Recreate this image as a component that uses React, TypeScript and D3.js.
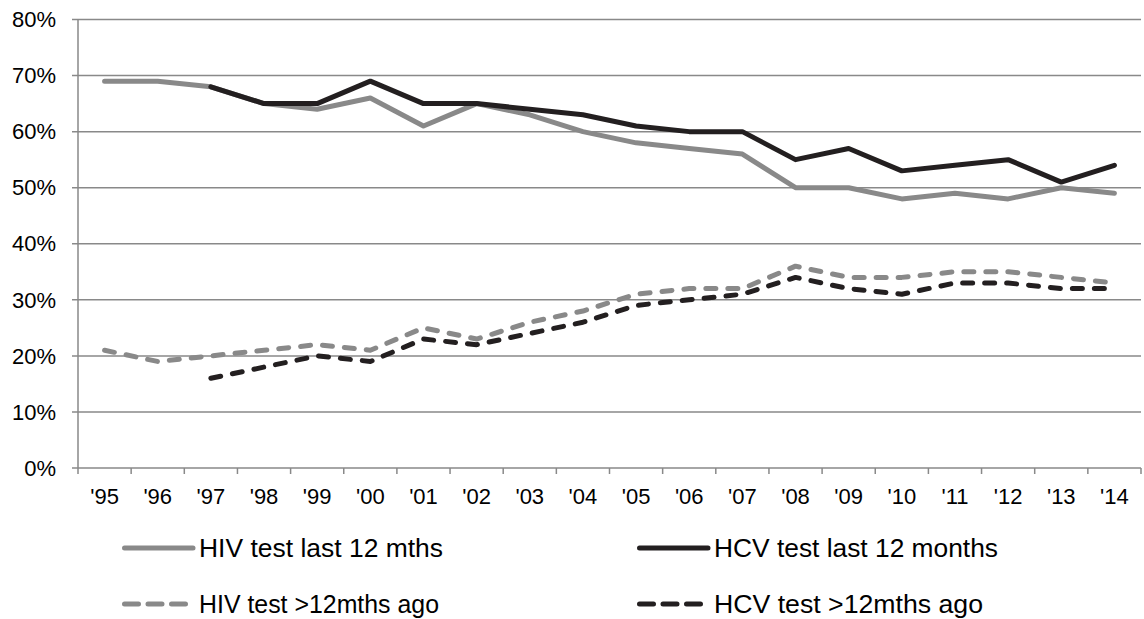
import React from "react";
import * as d3 from "d3";

const years = ["'95","'96","'97","'98","'99","'00","'01","'02","'03","'04","'05","'06","'07","'08","'09","'10","'11","'12","'13","'14"];
const hivLast12: (number | null)[] = [69,69,68,65,64,66,61,65,63,60,58,57,56,50,50,48,49,48,50,49];
const hcvLast12: (number | null)[] = [null,null,68,65,65,69,65,65,64,63,61,60,60,55,57,53,54,55,51,54];
const hivOver12: (number | null)[] = [21,19,20,21,22,21,25,23,26,28,31,32,32,36,34,34,35,35,34,33];
const hcvOver12: (number | null)[] = [null,null,16,18,20,19,23,22,24,26,29,30,31,34,32,31,33,33,32,32];
const yTicks = [0,10,20,30,40,50,60,70,80];

const GRAY = "#898989";
const BLACK = "#231f20";

const seriesList = [
  { name: "HIV test last 12 mths", values: hivLast12, color: GRAY, dashed: false, tl: 244 },
  { name: "HCV test last 12 months", values: hcvLast12, color: BLACK, dashed: false, tl: 284 },
  { name: "HIV test >12mths ago", values: hivOver12, color: GRAY, dashed: true, tl: 240 },
  { name: "HCV test >12mths ago", values: hcvOver12, color: BLACK, dashed: true, tl: 269 },
];

export default function App() {
  const W = 1144, H = 619;
  const left = 78, right = 1141, top = 19.5, bottom = 468;
  const x = d3.scaleBand<string>().domain(years).range([left, right]);
  const y = d3.scaleLinear().domain([0, 80]).range([bottom, top]);
  const line = d3.line<number | null>()
    .defined((d) => d !== null)
    .x((_, i) => (x(years[i]) as number) + x.bandwidth() / 2)
    .y((d) => y(d as number));
  const font = "'Liberation Sans', Arial, sans-serif";
  const legendPos = [
    { lx: 122, ly: 548 },
    { lx: 637, ly: 548 },
    { lx: 122, ly: 604 },
    { lx: 637, ly: 604 },
  ];
  return (
    <svg width={W} height={H} style={{ position: "absolute", left: 0, top: 0 }} fontFamily={font}>
      <rect width={W} height={H} fill="#fff" />
      {yTicks.map((t) => (
        <g key={t}>
          <line x1={left - 6} x2={right} y1={y(t)} y2={y(t)} stroke={GRAY} strokeWidth={1.5} />
          <text x={56} y={y(t)} dy="0.35em" textAnchor="end" fontSize={22} fill="#000">{t}%</text>
        </g>
      ))}
      <line x1={left} x2={left} y1={top} y2={bottom} stroke={GRAY} strokeWidth={1.5} />
      {years.map((yr, i) => (
        <line key={"tk" + i} x1={(x(yr) as number)} x2={(x(yr) as number)} y1={bottom} y2={bottom + 6} stroke={GRAY} strokeWidth={1.5} />
      ))}
      <line x1={right} x2={right} y1={bottom} y2={bottom + 6} stroke={GRAY} strokeWidth={1.5} />
      {years.map((yr) => (
        <text key={yr} x={(x(yr) as number) + x.bandwidth() / 2} y={496} dy="0.35em" textAnchor="middle" fontSize={22} fill="#000">{yr}</text>
      ))}
      {seriesList.map((s) => (
        <path key={s.name} d={line(s.values) || ""} fill="none" stroke={s.color} strokeWidth={5}
          strokeLinejoin="round" strokeLinecap="round" strokeDasharray={s.dashed ? "10,12" : undefined} />
      ))}
      {seriesList.map((s, i) => {
        const p = legendPos[i];
        return (
          <g key={"lg" + i}>
            <line x1={p.lx + 2.5} x2={p.lx + 71} y1={p.ly} y2={p.ly} stroke={s.color} strokeWidth={5}
              strokeLinecap="round" strokeDasharray={s.dashed ? "14,9.5" : undefined} />
            <text x={p.lx + 77} y={p.ly} dy="0.35em" fontSize={25} fill="#000"
              textLength={s.tl} lengthAdjust="spacingAndGlyphs">{s.name}</text>
          </g>
        );
      })}
    </svg>
  );
}
